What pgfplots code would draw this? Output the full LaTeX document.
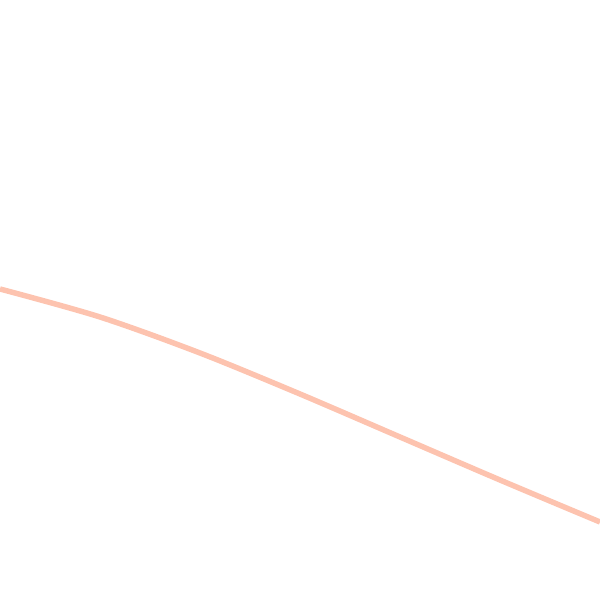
\documentclass[border=0pt]{standalone}
\usepackage{pgfplots}
\pgfplotsset{compat=1.18}
\definecolor{salmonline}{RGB}{252,180,155}
\begin{document}
\begin{tikzpicture}
\begin{axis}[
  scale only axis,
  width=10cm, height=10cm,
  xmin=0, xmax=600, ymin=0, ymax=600,
  y dir=reverse,
  axis lines=none,
  ticks=none,
  clip=true,
]
\addplot[salmonline, line width=2.6pt, opacity=0.8, smooth] coordinates {
(0,289) (100,317) (200,353) (300,394) (400,437) (500,480) (600,522)
};
\end{axis}
\path (current axis.south west) rectangle (current axis.north east);
\end{tikzpicture}
\end{document}
